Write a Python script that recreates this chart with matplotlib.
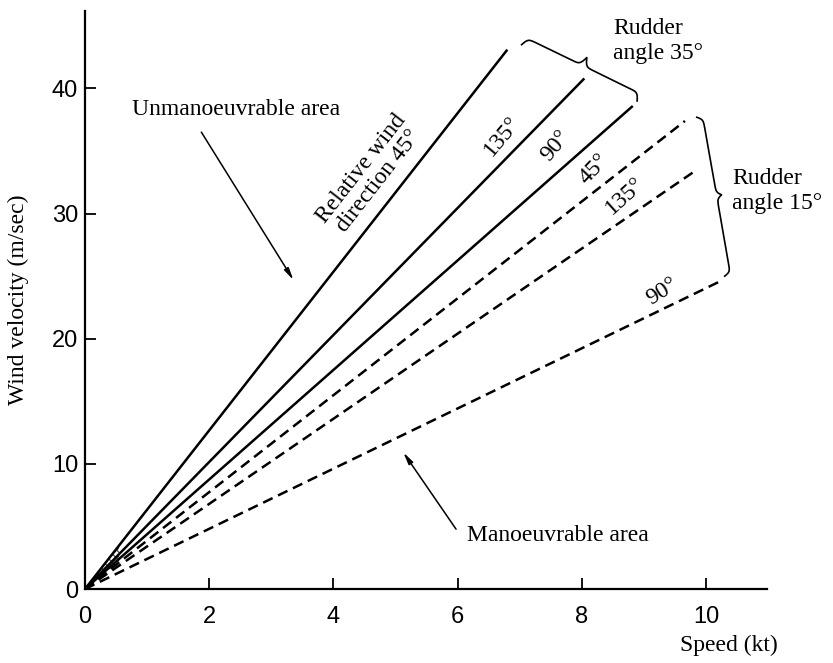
import numpy as np
import matplotlib
matplotlib.use('Agg')
import matplotlib.pyplot as plt

plt.rcParams['font.family'] = ['Liberation Serif', 'DejaVu Serif']

# end points of each limit line (speed kt, wind m/s); all start at the origin
solid_ends = {'45': (6.8, 43.1), '135': (8.04, 40.8), '90': (8.82, 38.6)}
dashed_ends = {'45': (9.66, 37.4), '135': (9.85, 33.5), '90': (10.23, 24.6)}

x_ticks = [0, 2, 4, 6, 8, 10]
y_ticks = [0, 10, 20, 30, 40]

fig = plt.figure(figsize=(8.33, 6.63), dpi=100)
ax = fig.add_axes([0.102, 0.1116, 0.8187, 0.872])
ax.set_xlim(0, 10.98)
ax.set_ylim(0, 46.2)

for key, (xe, ye) in solid_ends.items():
    ax.plot([0, xe], [0, ye], color='black', lw=1.8, solid_capstyle='butt')
for key, (xe, ye) in dashed_ends.items():
    ax.plot([0, xe], [0, ye], color='black', lw=1.8, dashes=(4.2, 2.4))

# shaded fan near the origin
xs = np.linspace(0, 0.55, 20)
ax.fill_between(xs, xs * dashed_ends['45'][1] / dashed_ends['45'][0],
                xs * solid_ends['45'][1] / solid_ends['45'][0],
                facecolor='none', edgecolor='#555555', hatch='xxxx', lw=0)

for s in ['top', 'right']:
    ax.spines[s].set_visible(False)
for s in ['left', 'bottom']:
    ax.spines[s].set_linewidth(1.6)
ax.set_xticks(x_ticks)
ax.set_yticks(y_ticks)
ax.tick_params(direction='in', length=8, width=1.3, labelsize=17)
ax.tick_params(axis='x', pad=12)
ax.tick_params(axis='y', pad=5)
for lab in ax.get_xticklabels() + ax.get_yticklabels():
    lab.set_family(['Liberation Sans', 'DejaVu Sans'])

fs = 17
ax.set_ylabel('Wind velocity (m/sec)', fontsize=fs, va='center')
ax.yaxis.set_label_coords(-0.098, 0.5)
ax.set_xlabel('Speed (kt)', fontsize=fs, ha='right', va='center')
ax.xaxis.set_label_coords(1.016, -0.097)

ax.text(0.76, 38.3, 'Unmanoeuvrable area', fontsize=fs, ha='left', va='center')
ax.annotate('', xy=(3.38, 24.5), xytext=(1.85, 36.7),
            arrowprops=dict(arrowstyle='-|>,head_width=0.15,head_length=0.7',
                            color='black', lw=1.1))
ax.text(6.15, 4.3, 'Manoeuvrable area', fontsize=fs, ha='left', va='center')
ax.annotate('', xy=(5.1, 11.1), xytext=(6.0, 4.6),
            arrowprops=dict(arrowstyle='-|>,head_width=0.15,head_length=0.7',
                            color='black', lw=1.1))

ax.text(4.59, 33.1, 'Relative wind\ndirection 45°', fontsize=fs, rotation=52,
        ha='center', va='center', rotation_mode='anchor', linespacing=1.0)
ax.text(6.71, 36.2, '135°', fontsize=fs, rotation=50, ha='center', va='center', rotation_mode='anchor')
ax.text(7.58, 35.4, '90°', fontsize=fs, rotation=50, ha='center', va='center', rotation_mode='anchor')
ax.text(8.2, 33.5, '45°', fontsize=fs, rotation=46, ha='center', va='center', rotation_mode='anchor')
ax.text(8.7, 31.4, '135°', fontsize=fs, rotation=42, ha='center', va='center', rotation_mode='anchor')
ax.text(9.29, 23.8, '90°', fontsize=fs, rotation=32, ha='center', va='center', rotation_mode='anchor')

ax.text(8.5, 43.8, 'Rudder\nangle 35°', fontsize=fs, ha='left', va='center')
ax.text(10.42, 31.8, 'Rudder\nangle 15°', fontsize=fs, ha='left', va='center')


def brace(p1, p2, h_end, h_mid, k=0.6):
    # curly brace between two data points, drawn in pixel space
    a = ax.transData.transform(p1)
    b = ax.transData.transform(p2)
    d = b - a
    L = np.hypot(*d)
    t = d / L
    n = np.array([-t[1], t[0]])
    u = np.linspace(0, L / 2, 120)
    v = 1 / (1 + np.exp(-k * (u - u[0]))) + 1 / (1 + np.exp(-k * (u - u[-1])))
    v = v - 0.5
    off = np.where(v <= 0.5, v * 2 * h_end, h_end + (v - 0.5) * 2 * (h_mid - h_end))
    uu = np.concatenate([u, L - u[-2::-1]])
    oo = np.concatenate([off, off[-2::-1]])
    pts = a + np.outer(uu, t) + np.outer(oo, n)
    pts = ax.transData.inverted().transform(pts)
    ax.plot(pts[:, 0], pts[:, 1], color='black', lw=1.2, clip_on=False)


brace((7.03, 43.5), (8.89, 39.0), 8, 17)
brace((9.85, 37.7), (10.3, 25.0), 6, 11)

fig.savefig('out.png', dpi=100)
